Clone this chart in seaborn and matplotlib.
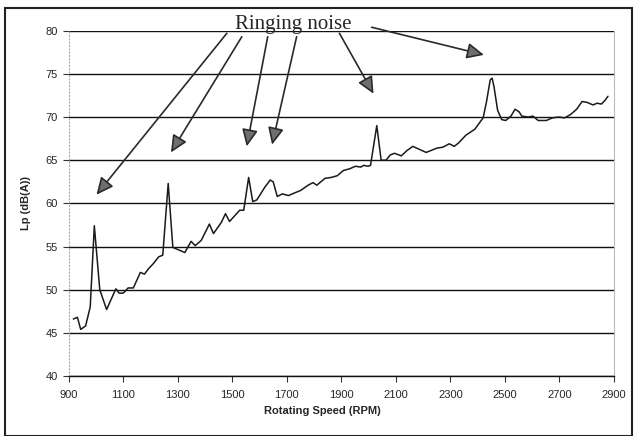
import matplotlib
matplotlib.use("Agg")
import matplotlib.pyplot as plt
import matplotlib.patches as mpatches
import seaborn as sns
import pandas as pd

rpm = [917, 932, 944, 962, 979, 994, 1014, 1039, 1073, 1085, 1100, 1118, 1137, 1163, 1178,
       1192, 1210, 1230, 1245, 1265, 1282, 1326, 1349, 1364, 1386, 1416, 1431, 1460, 1475,
       1490, 1527, 1542, 1560, 1575, 1590, 1620, 1639, 1650, 1665, 1684, 1706, 1728, 1751,
       1778, 1796, 1810, 1840, 1863, 1885, 1907, 1930, 1952, 1971, 1982, 1997, 2007, 2030,
       2046, 2064, 2079, 2095, 2120, 2140, 2162, 2190, 2211, 2235, 2250, 2272, 2296, 2314,
       2330, 2357, 2376, 2390, 2406, 2420, 2432, 2446, 2453, 2460, 2473, 2488, 2503, 2522,
       2537, 2552, 2562, 2585, 2603, 2622, 2652, 2674, 2697, 2719, 2741, 2763, 2783, 2801,
       2823, 2838, 2854, 2866, 2878]
lp = [46.6, 46.8, 45.4, 45.8, 48.0, 57.4, 50.0, 47.7, 50.1, 49.6, 49.6, 50.2, 50.2, 52.0, 51.8,
      52.4, 53.0, 53.8, 54.0, 62.3, 54.9, 54.3, 55.6, 55.1, 55.7, 57.6, 56.5, 57.8, 58.8,
      57.9, 59.2, 59.2, 63.0, 60.2, 60.4, 61.9, 62.7, 62.5, 60.8, 61.1, 60.9, 61.2, 61.5,
      62.1, 62.4, 62.1, 62.9, 63.0, 63.2, 63.8, 64.0, 64.3, 64.2, 64.4, 64.3, 64.4, 69.0,
      65.0, 65.0, 65.6, 65.8, 65.5, 66.1, 66.6, 66.2, 65.9, 66.2, 66.4, 66.5, 66.9, 66.6,
      67.0, 67.9, 68.3, 68.6, 69.3, 69.9, 71.7, 74.3, 74.5, 73.5, 70.8, 69.7, 69.6, 70.1,
      70.9, 70.6, 70.1, 70.0, 70.1, 69.6, 69.6, 69.9, 70.0, 69.9, 70.3, 70.9, 71.8, 71.7,
      71.4, 71.6, 71.5, 71.9, 72.4]

x_ticks = [900, 1100, 1300, 1500, 1700, 1900, 2100, 2300, 2500, 2700, 2900]
y_ticks = [40, 45, 50, 55, 60, 65, 70, 75, 80]

annot_text = "Ringing noise"
annot_xy = (1725, 80.15)
arrow_starts = [(1480, 79.7), (1535, 79.3), (1630, 79.3), (1736, 79.3), (1893, 79.7), (2011, 80.4)]
arrow_tips = [(1002, 61.0), (1275, 65.9), (1553, 66.6), (1646, 66.8), (2018, 72.7), (2423, 77.2)]

sns.set_style("white")
plt.rcParams['font.family'] = ['Liberation Sans', 'DejaVu Sans']

fig = plt.figure(figsize=(6.36, 4.36), dpi=100)
ax = fig.add_axes([0.108, 0.1376, 0.8574, 0.792])

df = pd.DataFrame({"rpm": rpm, "lp": lp})
sns.lineplot(data=df, x="rpm", y="lp", ax=ax, color="#1a1a1a", linewidth=1.1)

ax.set_xlim(900, 2900)
ax.set_ylim(40, 80)
ax.set_xticks(x_ticks)
ax.set_yticks(y_ticks)
ax.set_xticklabels([str(t) for t in x_ticks], fontsize=8)
ax.set_yticklabels([str(t) for t in y_ticks], fontsize=8)
ax.yaxis.grid(True, color="#111111", linewidth=1.0)
ax.xaxis.grid(False)
ax.set_axisbelow(True)

ax.spines["top"].set_visible(False)
ax.spines["left"].set_color("#aaaaaa")
ax.spines["left"].set_linestyle((0, (1, 2)))
ax.spines["left"].set_linewidth(0.8)
ax.spines["right"].set_color("#bbbbbb")
ax.spines["right"].set_linewidth(0.8)
ax.spines["bottom"].set_color("#111111")
ax.spines["bottom"].set_linewidth(1.0)

ax.tick_params(axis="x", direction="out", length=4, width=0.8, color="#333333", pad=6, bottom=True)
ax.tick_params(axis="y", direction="out", length=4, width=0.8, color="#333333", pad=4, left=True)

ax.set_xlabel("Rotating Speed (RPM)", fontsize=8, fontweight="bold")
ax.xaxis.set_label_coords(0.465, -0.088)
ax.set_ylabel("Lp (dB(A))", fontsize=8, fontweight="bold", labelpad=10)

ax.text(annot_xy[0], annot_xy[1], annot_text, ha="center", va="baseline",
        fontsize=15, family=["Liberation Serif", "DejaVu Serif"], clip_on=False)
for st, tp in zip(arrow_starts, arrow_tips):
    ax.annotate("", xy=tp, xytext=st, xycoords="data", textcoords="data",
                annotation_clip=False,
                arrowprops=dict(arrowstyle="-|>,head_length=0.9,head_width=0.42",
                                mutation_scale=11.5, fc="#6e6e6e", ec="#2a2a2a",
                                lw=1.2, shrinkA=0, shrinkB=0))

fig.patches.append(mpatches.Rectangle((5 / 636, 0.0), 627 / 636, 1 - 8 / 436,
                                      transform=fig.transFigure, fill=False,
                                      ec="#222222", lw=1.5))

fig.savefig("out.png", dpi=100)
